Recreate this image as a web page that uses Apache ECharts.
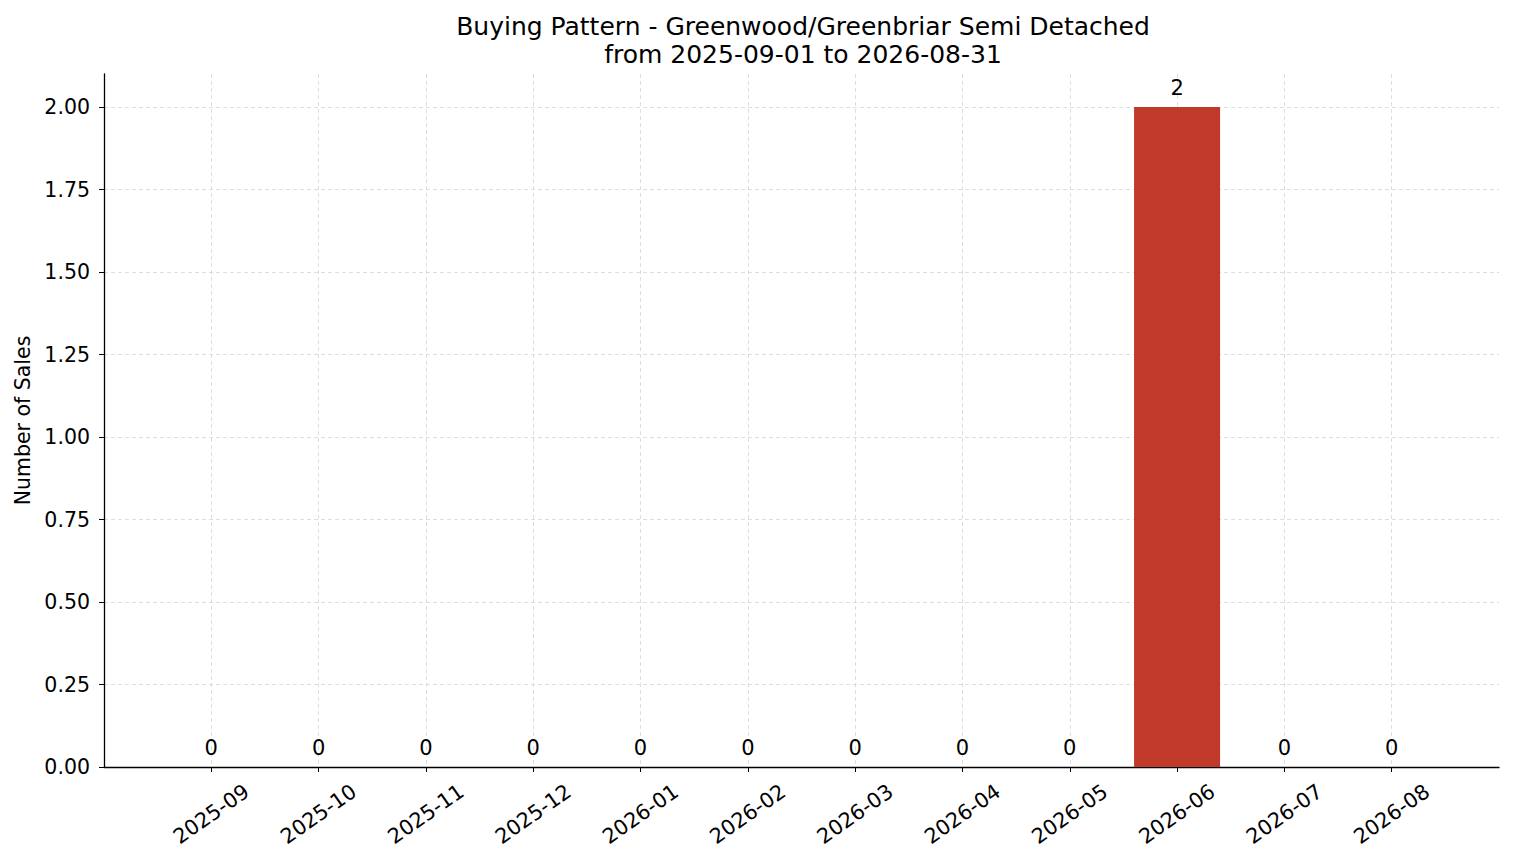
<!DOCTYPE html>
<html>
<head>
<meta charset="utf-8">
<script src="https://cdn.jsdelivr.net/npm/echarts@6/dist/echarts.min.js"></script>
<style>
  html, body { margin: 0; padding: 0; background: #fff; }
  #chart { width: 1514px; height: 863px; }
</style>
</head>
<body>
<div id="chart"></div>
<script>
var months = ['2025-09', '2025-10', '2025-11', '2025-12', '2026-01', '2026-02',
              '2026-03', '2026-04', '2026-05', '2026-06', '2026-07', '2026-08'];
var sales = [0, 0, 0, 0, 0, 0, 0, 0, 0, 2, 0, 0];
var yTicks = [0, 0.25, 0.5, 0.75, 1, 1.25, 1.5, 1.75, 2];

var font = 'DejaVu Sans';
var ink = '#000000';
var gridColor = '#d6d6d6';
var barColor = '#c0392b';

var chart = echarts.init(document.getElementById('chart'), null, { renderer: 'svg' });

var idx = months.map(function(m, i) { return i; });

chart.setOption({
  animation: false,
  title: {
    text: 'Buying Pattern - Greenwood/Greenbriar Semi Detached\nfrom 2025-09-01 to 2026-08-31',
    left: 798,
    textAlign: 'center',
    top: 7,
    textStyle: { fontFamily: font, fontSize: 25, fontWeight: 'normal', color: ink, lineHeight: 28 }
  },
  grid: { left: 104, right: 15, top: 74, bottom: 96 },
  xAxis: {
    type: 'value',
    min: -1,
    max: 12,
    interval: 1,
    axisLine: { show: true, onZero: false, lineStyle: { color: ink, width: 1.3 } },
    axisTick: { show: true, customValues: idx, length: 5, lineStyle: { color: ink } },
    axisLabel: {
      customValues: idx,
      rotate: 35,
      align: 'center',
      verticalAlign: 'middle',
      margin: 47,
      fontFamily: font,
      fontSize: 20.8,
      color: ink,
      formatter: function(v) { return months[v] || ''; }
    },
    splitLine: { show: true, lineStyle: { color: gridColor, type: [4, 3], width: 0.8 } }
  },
  yAxis: {
    type: 'value',
    min: 0,
    max: 2.1,
    name: 'Number of Sales',
    nameLocation: 'middle',
    nameGap: 70,
    nameTextStyle: { fontFamily: font, fontSize: 20.5, color: ink },
    axisLine: { show: true, onZero: false, lineStyle: { color: ink, width: 1.3 } },
    axisTick: { show: true, customValues: yTicks, length: 5, lineStyle: { color: ink } },
    axisLabel: {
      customValues: yTicks,
      margin: 14,
      fontFamily: font,
      fontSize: 20.5,
      color: ink,
      formatter: function(v) { return v.toFixed(2); }
    },
    splitLine: { show: true, lineStyle: { color: gridColor, type: [4, 3], width: 0.8 } }
  },
  series: [{
    type: 'bar',
    data: sales.map(function(v, i) { return [i, v]; }),
    barWidth: 86,
    itemStyle: { color: barColor },
    label: {
      show: true,
      position: 'top',
      distance: 9,
      fontFamily: font,
      fontSize: 21,
      color: ink
    },
    z: 1
  }]
});
</script>
</body>
</html>
